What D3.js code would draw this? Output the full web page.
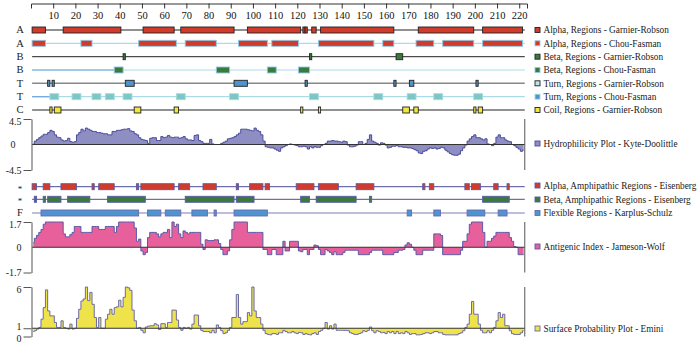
<!DOCTYPE html>
<html>
<head>
<meta charset="utf-8">
<script src="https://cdn.jsdelivr.net/npm/d3@7"></script>
<style>
  body { margin: 0; background: #fff; }
  svg text { font-family: "Liberation Serif", "DejaVu Serif", serif; }
</style>
</head>
<body>
<div id="chart"></div>
<script>
// residue regions, [first, last]
var alphaGR = [[1,6],[15,40],[51,64],[68,91],[98,121],[123,123],[124,124],[127,128],[131,163],[175,199],[204,221]];
var alphaCF = [[1,6],[23,27],[49,65],[70,83],[94,106],[109,120],[130,154],[159,163],[174,181],[186,199],[204,221]];
var betaGR = [[42,42],[126,126],[165,167]];
var betaCF = [[38,41],[84,89],[107,110],[121,125]];
var turnGR = [[8,8],[10,10],[43,46],[92,97],[124,124],[164,164],[171,172],[201,201]];
var turnCF = [[9,12],[19,22],[28,31],[34,37],[42,45],[66,69],[90,93],[126,129],[155,158],[170,173],[182,185],[200,203]];
var coilGR = [[9,9],[11,13],[47,49],[65,66],[122,122],[130,130],[168,170],[173,174],[200,200],[202,203]];
var alphaAmph = [[1,2],[6,8],[14,20],[28,28],[31,37],[48,48],[50,64],[67,71],[78,83],[93,93],[99,104],[106,107],[120,127],[130,138],[147,154],[177,177],[180,181],[196,197],[199,202],[209,210],[215,215]];
var betaAmph = [[2,2],[6,6],[8,13],[17,26],[35,51],[70,91],[93,100],[122,125],[129,146],[153,153],[204,215]];
var flexible = [[5,48],[53,58],[61,67],[73,79],[83,83],[92,106],[170,171],[182,184],[197,204],[211,214]];

// per residue values, residue 1..222
var hydro = [
0.1,0.6,0.9,1.2,1.5,1.8,1.8,2.1,2.5,2.3,
1.7,1.3,1.2,0.8,0.6,0.7,1.1,0.5,0.4,0.5,
1.7,2.1,2.7,2.4,2.9,2.7,2.5,2.3,2.3,2.1,
2.1,2.0,1.9,1.9,1.7,1.7,2.3,2.3,2.5,2.5,
2.6,2.7,2.7,2.8,2.4,2.3,1.9,1.7,1.2,0.9,
0.8,0.7,0.2,1.1,1.2,1.2,0.7,0.7,1.4,1.2,
1.3,1.6,1.3,1.2,1.3,1.3,1.1,1.2,1.4,1.0,
0.8,0.8,0.7,1.6,1.7,0.7,0.5,0.2,0.2,0.2,
0.9,0.1,0,0,0,0.2,0.4,0.6,1.0,1.1,
1.2,1.4,1.7,2.0,2.7,2.7,2.7,2.6,2.5,2.4,
2.9,2.5,2.3,1.7,0.6,-0.4,-0.5,-0.6,-0.6,-0.8,
-1.0,-1.2,-0.6,-0.4,-0.2,0,0.1,0,-0.1,-0.2,
-0.4,-0.4,-0.3,-0.4,-0.8,-0.4,-0.6,-0.4,-0.5,-0.5,
-0.2,0,0.2,0.6,0.6,0.7,0.6,0.6,0.5,0.4,
0.6,0.5,-0.1,-0.4,-0.4,-0.3,-0.1,0.5,0.5,0,
0.2,0.9,1.7,0.6,0.4,0.2,-0.1,0.3,0.2,-0.1,
-0.6,-0.5,-0.3,-0.3,-0.2,-0.4,-0.4,-0.5,-0.5,-0.6,
-0.6,-0.7,-0.9,-1.1,-1.5,-1.6,-1.2,-1.1,-0.8,-0.6,
-0.7,-0.6,-0.8,-0.7,-0.5,-0.6,-1.0,-1.3,-1.6,-1.8,
-1.9,-1.9,-1.7,-1.1,-0.6,-0.1,0.6,1.0,1.4,1.7,
1.2,1.2,1.0,0.8,1.0,0.1,0,-0.2,0.2,1.3,
1.7,1.2,1.2,0.8,0.6,0.5,0,-0.2,-0.5,-0.8,
-1.2,-1.0];

var antigenic = [
0.3,0.6,0.8,1.0,1.2,1.55,1.7,1.7,1.7,1.7,
1.7,1.7,1.7,1.7,0.9,0.7,0.7,0.85,1.0,1.4,
1.4,1.4,1.0,1.0,1.0,1.0,1.0,1.4,1.4,1.4,
1.2,1.2,1.2,1.4,1.4,1.4,1.4,1.0,1.4,1.7,
1.7,1.7,1.7,1.7,1.7,1.7,1.3,0.4,0.55,-0.25,
-0.5,-0.35,0.65,1.0,1.0,1.0,0.9,0.7,0.9,1.0,
1.0,1.2,0.65,1.7,1.4,1.55,0.9,0.65,1.1,1.0,
0.9,1.0,1.0,1.0,1.0,1.0,0.2,-0.15,0.5,0.45,
0.45,0.45,0.5,0.5,0.25,-0.15,-0.5,-0.5,-0.25,0.5,
1.2,1.7,1.7,1.7,1.7,1.7,1.7,1.0,1.0,1.0,
1.0,1.0,1.0,1.0,-0.15,-0.15,-0.5,-0.5,-0.15,-0.15,
-0.5,-0.5,-0.5,0.4,-0.25,-0.25,0.4,0.4,0.4,0.4,
-0.25,-0.3,-0.15,-0.15,-0.5,-0.15,-0.15,0.15,0.1,-0.15,
-0.5,-0.5,-0.15,-0.25,-0.35,-0.5,-0.3,-0.5,-0.5,-0.5,
-0.35,-0.2,-0.2,-0.2,-0.2,-0.2,-0.2,-0.5,-0.5,-0.5,
-0.5,-0.5,-0.35,-0.2,-0.2,-0.2,-0.2,-0.2,-0.5,-0.5,
-0.5,-0.5,-0.5,-0.35,-0.35,-0.2,-0.2,-0.15,0.15,0.3,
0.2,0,-0.2,-0.5,-0.5,-0.5,-0.2,-0.2,-0.2,-0.2,
-0.2,0.9,0.9,0.9,0.8,-0.5,-0.5,-0.5,-0.5,-0.5,
-0.5,-0.5,-0.5,-0.2,0.4,0.4,0.9,1.55,1.7,1.7,
1.7,1.7,1.7,1.0,0,0.4,0.4,0.6,0.75,1.0,
1.0,1.0,1.0,1.0,1.0,0.65,0.4,0.05,0,-0.5,
-0.5,-0.5];

var surface = [
0.6,0.7,0.9,1.1,2.1,3.5,5.65,3.1,2.5,2.5,
1.7,1.1,1.1,1.9,1.1,1,0.9,1.5,0.9,1,
2.2,3.3,4.3,4.55,6.0,4.35,5.35,3.9,2.3,1.1,
2.3,1,1,2.1,2.7,3.3,2.7,3.5,3.6,4.4,
3.6,4.75,6.0,5.9,5.6,3.2,1.9,1,1.1,0.75,
0.45,1.15,1.25,1.3,1.3,1.55,1.4,0.85,1.55,1.55,
1.1,1.7,1.7,3.2,3.2,2.0,1.1,0.75,1.1,1,
1.1,0.9,1.5,2.6,2.6,1.3,0.75,0.6,0.6,0.6,
0.45,0.75,0.45,1.4,1.1,0.7,0.35,0.45,0.75,1.1,
2.3,2.3,5.1,2.3,1.5,1.8,1.8,2.9,2.5,6.0,
3.1,2.3,2.3,1.5,0.75,0.35,0.25,0.2,0.35,0.35,
0.25,0.45,0.45,0.75,0.6,0.45,0.45,0.6,0.45,0.35,
0.5,0.45,0.25,0.35,0.25,0.2,0.35,0.45,0.25,0.6,
0.75,1,1.7,0.9,1.3,0.9,1.5,0.75,0.75,0.75,
0.75,0.75,0.7,0.45,0.35,0.25,0.25,0.35,0.45,0.7,
0.6,0.75,1.15,0.7,0.45,0.7,0.6,0.45,0.5,0.35,
0.6,0.45,0.6,0.35,0.6,0.35,0.45,0.35,0.6,0.45,
0.25,0.35,0.35,0.2,0.2,0.25,0.35,0.45,0.45,0.35,
0.45,0.6,0.6,0.45,0.45,0.25,0.2,0.2,0.2,0.2,
0.2,0.2,0.35,0.45,0.7,1.1,1.5,2.7,4.25,2.7,
2.7,1.5,0.75,0.45,0.45,0.7,0.45,0.75,1.1,1.9,
2.9,2.3,2.7,1.3,1.3,0.7,0.35,0.25,0.25,0.25,
0.45,0.7];

var topTicks = [10,20,30,40,50,60,70,80,90,100,110,120,130,140,150,160,170,180,190,200,210,220];
var nRes = hydro.length;
var serif = "Liberation Serif";

var red = "#d13b2b", green = "#3b7a3c", blue = "#4f93cf", cyan = "#7cc7c6", yellow = "#f3e63c";
var lightLine = "#a9dbe9", navy = "#4c4c9c";

var width = 700, height = 344;
var svg = d3.select("#chart").append("svg").attr("width", width).attr("height", height);

var x = d3.scaleLinear().domain([0, 223.5]).range([31, 527]);
var xEnd = x(nRes + 0.5);

// top ruler
var topAxis = d3.axisBottom(x).tickValues(topTicks).tickSizeInner(5).tickSizeOuter(5).tickPadding(3);
var gTop = svg.append("g").attr("transform", "translate(0,3.5)").call(topAxis);
gTop.attr("font-family", serif);
gTop.select(".domain").attr("stroke", "#333");
gTop.selectAll(".tick line").attr("stroke", "#333");
gTop.selectAll(".tick text").attr("font-family", serif).attr("font-size", 10.5).attr("fill", "#111");

var rows = [
  {lab: "A", y: 30, regs: alphaGR, fill: red, stroke: "#222", line: "#222", lw: 1},
  {lab: "A", y: 43.3, regs: alphaCF, fill: red, stroke: "#8fc9ea", line: lightLine, lw: 1.2},
  {lab: "B", y: 56.7, regs: betaGR, fill: green, stroke: "#222", line: "#222", lw: 1},
  {lab: "B", y: 70, regs: betaCF, fill: green, stroke: "#8fc9ea", line: lightLine, lw: 1.2, lead: 37.5},
  {lab: "T", y: 83.3, regs: turnGR, fill: blue, stroke: "#222", line: "#888", lw: 1.6},
  {lab: "T", y: 96.7, regs: turnCF, fill: cyan, stroke: "#a6dcdc", line: lightLine, lw: 1.2, lead: 8.5},
  {lab: "C", y: 110, regs: coilGR, fill: yellow, stroke: "#222", line: "#222", lw: 1},
  {lab: "*", y: 186.7, regs: alphaAmph, fill: red, stroke: "#5a5aa8", line: navy, lw: 1},
  {lab: "*", y: 199.3, regs: betaAmph, fill: green, stroke: "#5a5aa8", line: navy, lw: 1},
  {lab: "F", y: 213, regs: flexible, fill: blue, stroke: "#6a6ab0", line: "#7a7ab8", lw: 1}
];

rows.forEach(function (r) {
  var g = svg.append("g");
  g.append("line").attr("x1", x(0.5)).attr("x2", xEnd).attr("y1", r.y).attr("y2", r.y)
    .attr("stroke", r.line).attr("stroke-width", r.lw);
  if (r.lead) {
    g.append("line").attr("x1", x(0.5)).attr("x2", x(r.lead)).attr("y1", r.y).attr("y2", r.y)
      .attr("stroke", "#6fa6dc").attr("stroke-width", r.lw);
  }
  g.selectAll("rect").data(r.regs).enter().append("rect")
    .attr("x", d => x(d[0] - 0.5))
    .attr("width", d => x(d[1] + 0.5) - x(d[0] - 0.5))
    .attr("y", r.y - 3).attr("height", 6)
    .attr("fill", r.fill).attr("stroke", r.stroke).attr("stroke-width", 0.9);
  g.append("text").attr("x", 20).attr("y", r.lab == "*" ? r.y + 5 : r.y + 3.3)
    .attr("text-anchor", "middle").attr("font-family", serif)
    .attr("font-size", r.lab == "*" ? 9 : 10.5).attr("fill", "#222")
    .text(r.lab);
});

// profile plots
var plots = [
  {vals: hydro, dom: [-4.5, 4.5], rng: [170, 119], base: 0, ticks: [4.5, 0, -4.5], fill: "#8e8ec3", stroke: navy},
  {vals: antigenic, dom: [-1.7, 1.7], rng: [272.5, 222], base: 0, ticks: [1.7, 0, -1.7], fill: "#e8609b", stroke: "#5a5aa8"},
  {vals: surface, dom: [0, 6], rng: [336.5, 287], base: 1, ticks: [6, 1, 0], fill: "#eee34a", stroke: "#6a6aa8"}
];

plots.forEach(function (p, k) {
  var y = d3.scaleLinear().domain(p.dom).range(p.rng);
  var g = svg.append("g");
  var area = d3.area().x((d, i) => x(i + 1)).y0(y(p.base)).y1(d => y(d)).curve(d3.curveStep);
  var line = d3.line().x((d, i) => x(i + 1)).y(d => y(d)).curve(d3.curveStep);
  g.append("path").datum(p.vals).attr("d", area).attr("fill", p.fill);
  g.append("path").datum(p.vals).attr("d", line).attr("fill", "none").attr("stroke", p.stroke).attr("stroke-width", 1);
  g.append("line").attr("x1", x(0.5)).attr("x2", xEnd).attr("y1", y(p.base)).attr("y2", y(p.base))
    .attr("stroke", "#333").attr("stroke-width", 1);

  var axis = d3.axisLeft(y).tickValues(p.ticks).tickSizeInner(8).tickSizeOuter(0).tickPadding(2)
    .tickFormat(d => d < 0 ? "-" + Math.abs(d) : String(d));
  var ga = g.append("g").attr("transform", "translate(31.5,0)").call(axis);
  ga.attr("font-family", serif);
  ga.select(".domain").attr("stroke", "#555");
  ga.selectAll(".tick line").attr("stroke", "#555").attr("opacity", d => d == p.base && k < 2 ? 0 : 1);
  ga.selectAll(".tick text").attr("font-family", serif).attr("font-size", 10).attr("fill", "#222")
    .attr("dx", d => (k == 0 && d == 0) ? -6 : 0)
    .attr("dy", function (d) {
      if (k == 2 && d == 1) return "0.15em";
      if (k == 2 && d == 0) return "0.45em";
      if (d == p.dom[1]) return "0.5em";
      return "0.32em";
    });
  g.append("line").attr("x1", xEnd).attr("x2", xEnd).attr("y1", p.rng[1]).attr("y2", p.rng[0])
    .attr("stroke", "#555").attr("stroke-width", 1);
});

// legend
var legend = [
  {y: 30, text: "Alpha, Regions - Garnier-Robson", fill: red, stroke: "#222"},
  {y: 43.3, text: "Alpha, Regions - Chou-Fasman", fill: red, stroke: "#8fc9ea"},
  {y: 56.7, text: "Beta, Regions - Garnier-Robson", fill: green, stroke: "#222"},
  {y: 70, text: "Beta, Regions - Chou-Fasman", fill: green, stroke: "#8fc9ea"},
  {y: 83.3, text: "Turn, Regions - Garnier-Robson", fill: "#bfe6e6", stroke: "#222"},
  {y: 96.7, text: "Turn, Regions - Chou-Fasman", fill: blue, stroke: "#a6dcdc"},
  {y: 110, text: "Coil, Regions - Garnier-Robson", fill: yellow, stroke: "#222"},
  {y: 143.5, text: "Hydrophilicity Plot - Kyte-Doolittle", fill: "#8e8ec3", stroke: navy},
  {y: 185.5, text: "Alpha, Amphipathic Regions - Eisenberg", fill: red, stroke: "#5a5aa8"},
  {y: 199.5, text: "Beta, Amphipathic Regions - Eisenberg", fill: green, stroke: "#5a5aa8"},
  {y: 213, text: "Flexible Regions - Karplus-Schulz", fill: blue, stroke: "#6a6ab0"},
  {y: 246.5, text: "Antigenic Index - Jameson-Wolf", fill: "#e8609b", stroke: "#5a5aa8"},
  {y: 328.5, text: "Surface Probability Plot - Emini", fill: "#eee34a", stroke: "#6a6aa8"}
];
var lg = svg.append("g").selectAll("g").data(legend).enter().append("g")
  .attr("transform", d => "translate(535," + d.y + ")");
lg.append("rect").attr("x", 0).attr("y", -2.5).attr("width", 5).attr("height", 5)
  .attr("fill", d => d.fill).attr("stroke", d => d.stroke).attr("stroke-width", 0.9);
lg.append("text").attr("x", 8.5).attr("y", 3.3).attr("font-family", serif).attr("font-size", 9.3)
  .attr("fill", "#222").text(d => d.text);
</script>
</body>
</html>
